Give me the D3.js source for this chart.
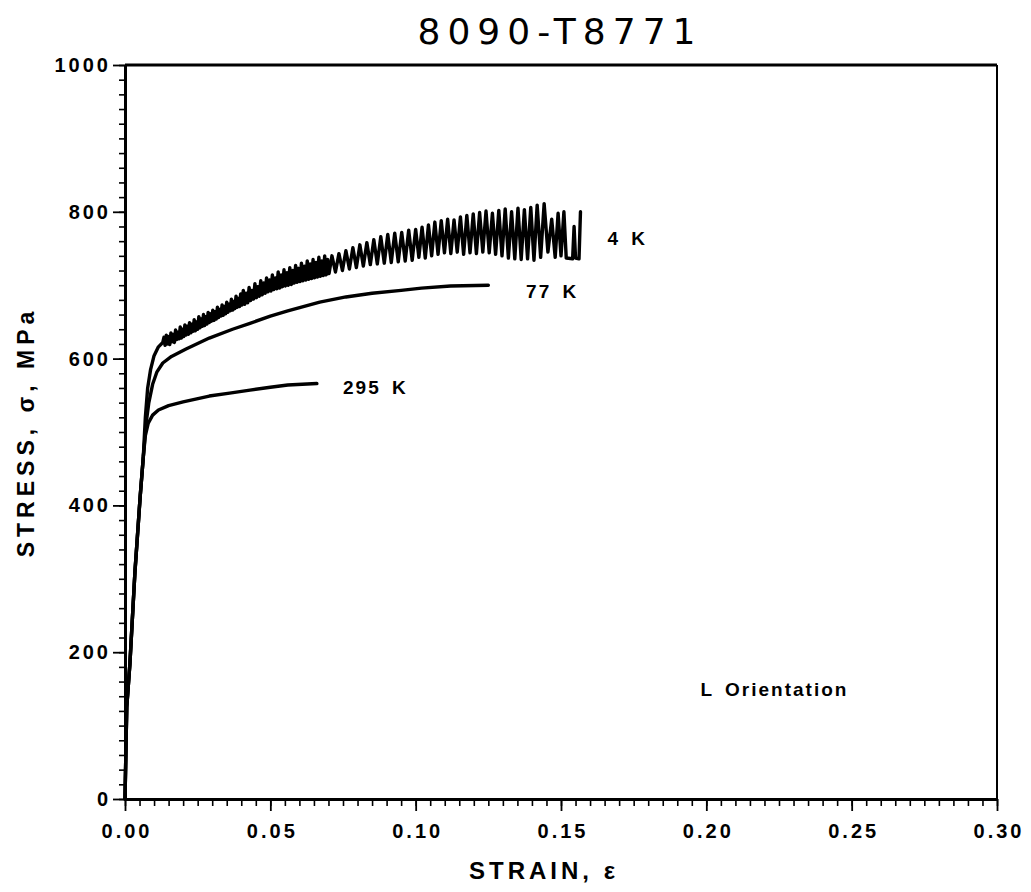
<!DOCTYPE html>
<html>
<head>
<meta charset="utf-8">
<script src="https://cdn.jsdelivr.net/npm/d3@7"></script>
<style>
  html, body { margin: 0; padding: 0; background: #fff; }
  svg { display: block; }
  .lbl { font-family: "Liberation Sans", Arial, sans-serif; font-weight: bold; fill: #000; }
</style>
</head>
<body>
<svg id="chart" width="1031" height="892"></svg>
<script>
// Tensile stress–strain curves for 8090-T8771, L orientation
const title = "8090-T8771";
const xTicks = [0.00, 0.05, 0.10, 0.15, 0.20, 0.25, 0.30];
const yTicks = [0, 200, 400, 600, 800, 1000];

// [strain, stress MPa]
const curve295K = [
  [0,0],[0.0006,125],[0.0017,185],[0.0034,308],[0.0052,411],[0.0063,466],
  [0.0070,495],[0.0080,512],[0.0095,523],[0.0115,530],[0.015,536],[0.020,541],
  [0.029,549],[0.036,553],[0.043,557],[0.050,561],[0.056,564],[0.066,566]
];

const curve77K = [
  [0,0],[0.0006,125],[0.0017,185],[0.0034,308],[0.0052,411],[0.0063,466],
  [0.0072,510],[0.0082,540],[0.0095,565],[0.0110,582],[0.0130,594],[0.016,603],
  [0.021,613],[0.029,628],[0.037,640],[0.043,648],[0.050,658],[0.056,665],
  [0.067,677],[0.076,684],[0.085,689],[0.095,693],[0.102,696],[0.112,699],[0.125,700]
];

// 4 K curve with serrated flow
const curve4K = [
  [0,0],[0.0006,125],[0.0017,185],[0.0034,308],[0.0052,411],[0.0063,466],
  [0.0070,520],[0.0078,560],[0.0088,585],[0.0100,604],[0.0115,616],[0.0130,622],
  [0.0134,629],[0.0138,618],[0.0142,632],[0.0146,620],[0.0150,630],[0.0154,619],
  [0.0158,635],[0.0162,623],[0.0166,633],[0.0170,622],[0.0174,639],[0.0178,626],
  [0.0182,636],[0.0186,627],[0.0190,643],[0.0194,628],[0.0198,640],[0.0202,630],
  [0.0206,646],[0.0210,632],[0.0214,644],[0.0218,633],[0.0222,649],[0.0226,635],
  [0.0230,647],[0.0234,637],[0.0238,653],[0.0242,638],[0.0246,650],[0.0250,640],
  [0.0254,657],[0.0258,642],[0.0262,654],[0.0266,644],[0.0270,660],[0.0274,645],
  [0.0278,657],[0.0282,647],[0.0286,663],[0.0290,649],[0.0294,661],[0.0298,651],
  [0.0302,666],[0.0306,652],[0.0310,664],[0.0314,654],[0.0318,670],[0.0322,656],
  [0.0326,667],[0.0330,658],[0.0334,673],[0.0338,659],[0.0342,671],[0.0346,661],
  [0.0350,677],[0.0354,663],[0.0358,674],[0.0362,665],[0.0366,681],[0.0370,666],
  [0.0374,678],[0.0378,668],[0.0382,685],[0.0386,670],[0.0390,682],[0.0394,671],
  [0.0398,688],[0.0402,673],
  [0.0407,693],[0.0412,674],[0.0417,689],[0.0422,676],[0.0427,697],[0.0432,679],
  [0.0437,693],[0.0442,681],[0.0447,702],[0.0452,683],[0.0457,698],[0.0462,685],
  [0.0467,706],[0.0472,687],[0.0477,703],[0.0482,689],[0.0487,710],[0.0492,691],
  [0.0497,707],[0.0502,692],[0.0507,714],[0.0512,694],[0.0517,710],[0.0522,695],
  [0.0527,718],[0.0532,696],[0.0537,714],[0.0542,698],[0.0547,721],[0.0552,699],
  [0.0557,717],[0.0562,700],[0.0567,724],[0.0572,701],[0.0577,720],[0.0582,703],
  [0.0587,727],[0.0592,704],[0.0597,723],[0.0602,705],[0.0607,730],[0.0612,706],
  [0.0617,726],[0.0622,707],[0.0627,733],[0.0632,708],[0.0637,729],[0.0642,709],
  [0.0647,735],[0.0652,710],[0.0657,731],[0.0662,711],[0.0667,738],[0.0672,712],
  [0.0677,733],[0.0682,713],[0.0687,740],[0.0692,714],[0.0697,735],[0.0702,716],
  [0.0712,740],[0.0724,718],[0.0736,743],[0.0748,720],[0.0760,747],[0.0772,722],
  [0.0784,751],[0.0796,724],[0.0808,755],[0.0820,726],[0.0832,758],[0.0844,728],
  [0.0856,762],[0.0868,729],[0.0880,766],[0.0892,730],[0.0904,769],[0.0916,731],
  [0.0928,771],[0.0940,732],[0.0952,772],[0.0964,733],[0.0976,775],[0.0988,734],
  [0.1000,776],[0.1011,738],[0.1022,779],[0.1033,737],[0.1044,782],[0.1055,740],
  [0.1066,786],[0.1077,742],[0.1088,788],[0.1099,744],[0.1110,790],[0.1121,743],
  [0.1132,789],[0.1143,745],[0.1154,793],[0.1165,742],[0.1176,795],[0.1187,744],
  [0.1198,797],[0.1209,743],[0.1220,799],[0.1231,745],[0.1242,801],[0.1253,744],
  [0.1264,798],[0.1275,742],[0.1286,802],[0.1297,740],[0.1308,804],[0.1319,737],
  [0.1330,800],[0.1341,736],[0.1352,805],[0.1363,735],[0.1374,803],[0.1385,736],
  [0.1396,806],[0.1407,734],[0.1418,809],[0.1430,738],[0.1442,811],[0.1455,745],
  [0.1468,790],[0.1480,738],[0.1490,798],[0.1500,740],[0.1510,800],[0.1518,737],
  [0.1540,736],[0.1545,780],[0.1550,737],[0.1562,736],[0.1567,800]
];

const labels = [
  { text: "4 K",   strain: 0.166, stress: 762 },
  { text: "77 K",  strain: 0.138, stress: 690 },
  { text: "295 K", strain: 0.075, stress: 558 }
];
const note = { text: "L Orientation", strain: 0.198, stress: 147 };

const svg = d3.select("#chart");
const x = d3.scaleLinear().domain([0, 0.30]).range([125, 997]);
const y = d3.scaleLinear().domain([0, 1000]).range([799, 65]);

// frame
svg.append("line").attr("x1", x(0)).attr("x2", x(0.30))
  .attr("y1", y(1000)).attr("y2", y(1000))
  .attr("stroke", "#000").attr("stroke-width", 3);
svg.append("line").attr("x1", x(0.30)).attr("x2", x(0.30))
  .attr("y1", y(1000)).attr("y2", y(0))
  .attr("stroke", "#000").attr("stroke-width", 2);

// minor ticks
const xMinor = d3.range(0, 0.3001, 0.005);
const yMinor = d3.range(0, 1001, 20);
svg.append("g").attr("transform", `translate(0,${y(0)})`)
  .call(d3.axisBottom(x).tickValues(xMinor).tickSize(7).tickFormat(""))
  .call(g => g.select(".domain").remove())
  .selectAll("line").attr("stroke-width", 1.6);
svg.append("g").attr("transform", `translate(${x(0)},0)`)
  .call(d3.axisLeft(y).tickValues(yMinor).tickSize(6).tickFormat(""))
  .call(g => g.select(".domain").remove())
  .selectAll("line").attr("stroke-width", 1.6);

// major ticks and labels
const xAxis = svg.append("g").attr("transform", `translate(0,${y(0)})`)
  .call(d3.axisBottom(x).tickValues(xTicks).tickSize(12).tickPadding(13)
    .tickSizeOuter(0).tickFormat(d3.format(".2f")));
xAxis.select(".domain").attr("stroke-width", 3);
xAxis.selectAll("line").attr("stroke-width", 1.8);
xAxis.selectAll("text").attr("class", "lbl").attr("font-size", 20)
  .attr("letter-spacing", 3).attr("dx", 1.5);

const yAxis = svg.append("g").attr("transform", `translate(${x(0)},0)`)
  .call(d3.axisLeft(y).tickValues(yTicks).tickSize(12).tickPadding(2)
    .tickSizeOuter(0).tickFormat(d3.format("d")));
yAxis.select(".domain").attr("stroke-width", 3);
yAxis.selectAll("line").attr("stroke-width", 1.8);
yAxis.selectAll("text").attr("class", "lbl").attr("font-size", 20)
  .attr("letter-spacing", 3);

// curves
const line = d3.line().x(d => x(d[0])).y(d => y(d[1]));
[curve295K, curve77K].forEach(c => {
  svg.append("path").datum(c).attr("d", line)
    .attr("fill", "none").attr("stroke", "#000").attr("stroke-width", 3.4)
    .attr("stroke-linejoin", "round").attr("stroke-linecap", "round");
});
svg.append("path").datum(curve4K).attr("d", line)
  .attr("fill", "none").attr("stroke", "#000").attr("stroke-width", 3.4)
  .attr("stroke-linejoin", "round").attr("stroke-linecap", "round");

// curve labels
svg.selectAll("text.curve").data(labels).join("text")
  .attr("class", "lbl curve")
  .attr("x", d => x(d.strain)).attr("y", d => y(d.stress))
  .attr("font-size", 19).attr("letter-spacing", 2)
  .attr("dominant-baseline", "middle")
  .style("word-spacing", "4px")
  .text(d => d.text);

svg.append("text").attr("class", "lbl")
  .attr("x", x(note.strain)).attr("y", y(note.stress))
  .attr("font-size", 19).attr("letter-spacing", 2)
  .attr("dominant-baseline", "middle")
  .style("word-spacing", "4px")
  .text(note.text);

// axis titles
svg.append("text").attr("class", "lbl")
  .attr("x", 544).attr("y", 879).attr("text-anchor", "middle")
  .attr("font-size", 24).attr("letter-spacing", 4)
  .text("STRAIN, \u03B5");

svg.append("text").attr("class", "lbl")
  .attr("transform", "translate(34,432) rotate(-90)")
  .attr("text-anchor", "middle")
  .attr("font-size", 23).attr("letter-spacing", 5)
  .text("STRESS, \u03C3, MPa");

// title
svg.append("text")
  .attr("x", 560).attr("y", 44).attr("text-anchor", "middle")
  .attr("font-family", "'DejaVu Sans', sans-serif")
  .attr("font-size", 36).attr("font-weight", "normal")
  .attr("letter-spacing", 7)
  .text(title);
</script>
</body>
</html>
